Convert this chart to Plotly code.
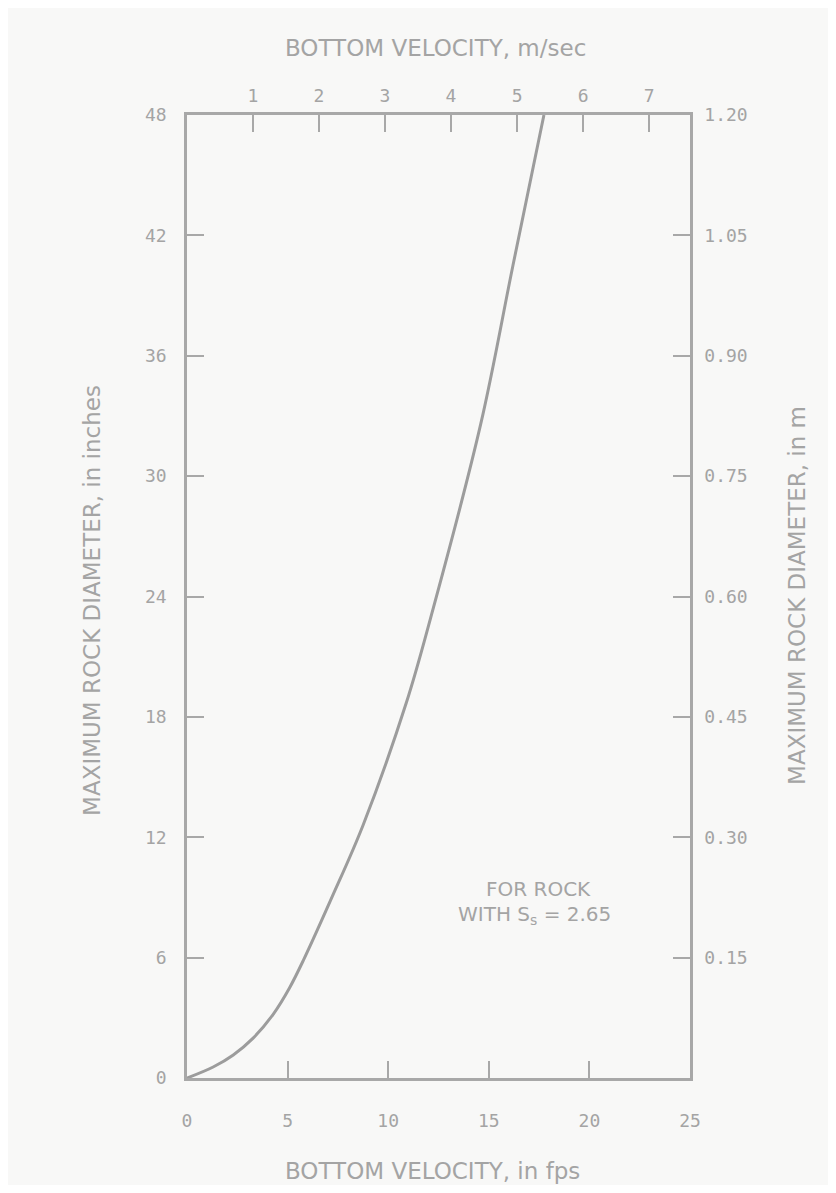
import plotly.graph_objects as go

# Curve data: bottom velocity (fps) vs max rock diameter (inches)
velocity_fps = [0, 1.3, 2.3, 3.3, 4.3, 5.1, 5.8, 7.2, 8.75, 10.9, 12.1, 14.6, 16.2, 17.74]
diameter_in = [0, 0.55, 1.15, 2.0, 3.2, 4.5, 5.9, 9.0, 12.6, 18.7, 22.9, 32.6, 40.5, 48]

bottom_ticks = [0, 5, 10, 15, 20, 25]
left_ticks = [0, 6, 12, 18, 24, 30, 36, 42, 48]
top_ticks_ms = [1, 2, 3, 4, 5, 6, 7]
right_ticks_in = [6, 12, 18, 24, 30, 36, 42, 48]
right_labels = ["0.15", "0.30", "0.45", "0.60", "0.75", "0.90", "1.05", "1.20"]

FPS_PER_MS = 3.2808
TXT = "#a4a4a4"
LN = "#a8a8a8"
FONT = "DejaVu Sans"
TICKFONT = "DejaVu Sans Mono"

fig = go.Figure()
fig.add_trace(go.Scatter(x=velocity_fps, y=diameter_in, mode="lines",
                         line=dict(color="#9c9c9c", width=3, shape="spline", smoothing=1.0),
                         showlegend=False, hoverinfo="skip"))
# invisible trace to activate secondary axes
fig.add_trace(go.Scatter(x=[0], y=[0], xaxis="x2", yaxis="y2", mode="markers",
                         marker=dict(opacity=0), showlegend=False, hoverinfo="skip"))

axis_common = dict(showgrid=False, zeroline=False, showline=True, linecolor=LN, linewidth=2.5,
                   ticks="inside", ticklen=17, tickwidth=2, tickcolor=LN,
                   tickfont=dict(family=TICKFONT, size=18, color=TXT))

fig.update_layout(
    width=820, height=1177,
    margin=dict(l=179, r=138, t=107, b=107),
    paper_bgcolor="#f8f8f7", plot_bgcolor="#f8f8f7",
    xaxis=dict(range=[0, 25], tickvals=bottom_ticks, ticklabelstandoff=25, **axis_common),
    yaxis=dict(range=[0, 48], tickvals=left_ticks, ticklabelstandoff=14, **axis_common),
    xaxis2=dict(range=[0, 25], overlaying="x", side="top", anchor="y",
                tickvals=[m * FPS_PER_MS for m in top_ticks_ms],
                ticktext=[str(m) for m in top_ticks_ms], ticklabelstandoff=3, **axis_common),
    yaxis2=dict(range=[0, 48], overlaying="y", side="right", anchor="x",
                tickvals=right_ticks_in, ticktext=right_labels, ticklabelstandoff=8, **axis_common),
)

ann_font = dict(family=FONT, size=23, color=TXT)
fig.add_annotation(text="BOTTOM VELOCITY, in fps", xref="paper", yref="paper",
                   x=0.489, y=-0.0966, xanchor="center", yanchor="middle",
                   showarrow=False, font=ann_font)
fig.add_annotation(text="BOTTOM VELOCITY, m/sec", xref="paper", yref="paper",
                   x=0.495, y=1.0696, xanchor="center", yanchor="middle",
                   showarrow=False, font=ann_font)
fig.add_annotation(text="MAXIMUM ROCK DIAMETER, in inches", xref="paper", yref="paper",
                   x=-0.1889, y=0.4964, xanchor="center", yanchor="middle", textangle=-90,
                   showarrow=False, font=ann_font)
fig.add_annotation(text="MAXIMUM ROCK DIAMETER, in m", xref="paper", yref="paper",
                   x=1.2127, y=0.5016, xanchor="center", yanchor="middle", textangle=-90,
                   showarrow=False, font=ann_font)
note_font = dict(family=FONT, size=20, color=TXT)
fig.add_annotation(text="FOR ROCK", x=20.18, y=9.4, xanchor="right", yanchor="middle",
                   showarrow=False, font=note_font)
fig.add_annotation(text="WITH S<sub>s</sub> = 2.65", x=21.17, y=8.1, xanchor="right", yanchor="middle",
                   showarrow=False, font=note_font)

fig.write_html("out.html")
